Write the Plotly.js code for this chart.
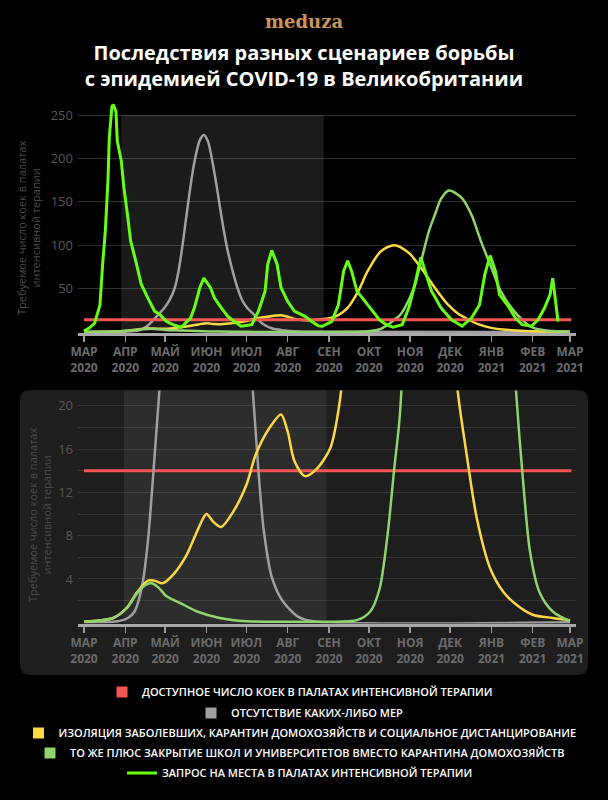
<!DOCTYPE html>
<html>
<head>
<meta charset="utf-8">
<script src="https://cdn.plot.ly/plotly-3.0.1.min.js"></script>
<style>
  html, body { margin: 0; padding: 0; background: #000; }
  #chart { width: 608px; height: 800px; }
</style>
</head>
<body>
<div id="chart"></div>
<script>
// ---------- DATA ----------
const monthTicks = ['2020-03-01','2020-04-01','2020-05-01','2020-06-01','2020-07-01','2020-08-01',
                    '2020-09-01','2020-10-01','2020-11-01','2020-12-01','2021-01-01','2021-02-01','2021-03-01'];
const monthNames = ['МАР','АПР','МАЙ','ИЮН','ИЮЛ','АВГ','СЕН','ОКТ','НОЯ','ДЕК','ЯНВ','ФЕВ','МАР'];
const monthYears = ['2020','2020','2020','2020','2020','2020','2020','2020','2020','2020','2021','2021','2021'];

const topYTicks = [50, 100, 150, 200, 250];
const bottomYTicks = [2, 4, 6, 8, 10, 12, 14, 16, 18, 20];
const bottomYLabels = ['', '4', '', '8', '', '12', '', '16', '', '20'];

// period of restrictions (shaded)
const shadeTop = ['2020-03-29', '2020-08-28'];
const shadeBottom = ['2020-03-31', '2020-08-30'];

// available ICU beds
const capacityDates = ['2020-03-01', '2021-03-02'];
const capacityValues = [14, 14];

// no measures
const greyDates = ['2020-03-01','2020-03-26','2020-04-03','2020-04-08','2020-04-11','2020-04-14',
  '2020-04-18','2020-04-21','2020-04-24','2020-04-27','2020-04-30','2020-05-04',
  '2020-05-08','2020-05-11','2020-05-14','2020-05-16','2020-05-18','2020-05-20',
  '2020-05-22','2020-05-24','2020-05-27','2020-05-30','2020-06-02','2020-06-05',
  '2020-06-08','2020-06-11','2020-06-14','2020-06-17','2020-06-20','2020-06-24',
  '2020-06-28','2020-07-02','2020-07-06','2020-07-10','2020-07-14','2020-07-20',
  '2020-07-28','2020-08-09','2020-08-20','2021-03-01'];
const greyValues = [0,0.1,0.4,1,2,3.6,
  7.5,12,17,22,27,36,
  50,70,100,123,146,168,
  188,204,221,227,220,200,
  174,145,117,93,74,52,
  36,27,21,14,8.5,4.2,
  2,0.5,0.1,0];

// isolation + household quarantine + social distancing
const yellowDates = ['2020-03-01','2020-03-23','2020-04-02','2020-04-10','2020-04-18','2020-04-23',
  '2020-04-29','2020-05-07','2020-05-17','2020-05-26','2020-06-01','2020-06-06',
  '2020-06-12','2020-06-21','2020-07-01','2020-07-08','2020-07-18','2020-07-27',
  '2020-08-01','2020-08-06','2020-08-14','2020-08-23','2020-09-02','2020-09-08',
  '2020-09-15','2020-09-23','2020-09-30','2020-10-10','2020-10-20','2020-10-31',
  '2020-11-09','2020-11-19','2020-11-29','2020-12-07','2020-12-13','2020-12-21',
  '2020-12-31','2021-01-10','2021-01-20','2021-02-01','2021-02-16','2021-03-01'];
const yellowValues = [0.05,0.4,1.3,2.8,3.85,3.85,
  3.6,4.4,6.2,8.7,10,9.3,
  8.8,10.2,12.7,15.5,17.9,19.2,
  17.6,14.9,13.5,14.2,16.1,19.5,
  27.7,47,70,93,100,91,
  74,52,32,21,15.8,9.6,
  5,2.8,1.6,0.7,0.4,0.2];

// same plus school closure
const schoolDates = ['2020-03-01','2020-03-23','2020-04-02','2020-04-10','2020-04-17','2020-04-21',
  '2020-04-26','2020-05-02','2020-05-12','2020-05-25','2020-06-11','2020-07-01',
  '2020-08-01','2020-09-01','2020-09-22','2020-10-02','2020-10-09','2020-10-15',
  '2020-10-20','2020-10-24','2020-10-28','2020-11-04','2020-11-15','2020-11-20',
  '2020-11-24','2020-11-30','2020-12-10','2020-12-17','2020-12-24','2021-01-01',
  '2021-01-08','2021-01-18','2021-01-25','2021-01-30','2021-02-06','2021-02-16','2021-03-01'];
const schoolValues = [0.05,0.4,1.3,2.7,3.5,3.6,
  3.2,2.4,1.8,1.0,0.4,0.1,
  0.05,0.05,0.2,1.0,3.1,8.1,
  14.2,18.8,28,52,116,137,
  153,163,154,135,105,74,
  47,24,12.7,6.5,2.8,1.0,0.1];

// ICU bed demand (intermittent measures)
const icuDates = ['2020-03-01','2020-03-05','2020-03-09','2020-03-13','2020-03-15','2020-03-17',
  '2020-03-19','2020-03-20','2020-03-22','2020-03-23','2020-03-25','2020-03-26',
  '2020-03-29','2020-03-31','2020-04-03','2020-04-05','2020-04-09','2020-04-13',
  '2020-04-18','2020-04-23','2020-04-27','2020-05-02','2020-05-08','2020-05-13',
  '2020-05-20','2020-05-23','2020-05-27','2020-05-30','2020-06-04','2020-06-07',
  '2020-06-12','2020-06-17','2020-06-22','2020-06-27','2020-07-05','2020-07-10',
  '2020-07-15','2020-07-17','2020-07-20','2020-07-24','2020-07-27','2020-08-01',
  '2020-08-06','2020-08-14','2020-08-19','2020-08-24','2020-08-27','2020-09-03',
  '2020-09-08','2020-09-12','2020-09-15','2020-09-18','2020-09-22','2020-09-27',
  '2020-10-03','2020-10-09','2020-10-14','2020-10-19','2020-10-26','2020-10-31',
  '2020-11-05','2020-11-09','2020-11-13','2020-11-17','2020-11-20','2020-11-24',
  '2020-12-02','2020-12-10','2020-12-17','2020-12-23','2020-12-27','2020-12-31',
  '2021-01-04','2021-01-07','2021-01-13','2021-01-19','2021-01-24','2021-01-31',
  '2021-02-05','2021-02-10','2021-02-14','2021-02-16','2021-02-20'];
const icuValues = [1,4.6,10,31,78,116,
  174,224,260,262,254,220,
  197,166,131,105,81,55,
  39,24,20,12,7.7,5.4,
  16,28,51,62,51,39,
  28,18,12,6.6,8.4,24,
  47,78,94,78,51,35,
  24,18,12,7,6.6,12,
  31,70,82,70,47,37,
  26,14,8.4,5.4,8.4,28,
  58,86,66,47,39,28,
  14,6.6,16,31,66,88,
  70,43,31,16,8.4,6.6,
  14,28,43,62,12];

const legendLabels = [
  'ДОСТУПНОЕ ЧИСЛО КОЕК В ПАЛАТАХ ИНТЕНСИВНОЙ ТЕРАПИИ',
  'ОТСУТСТВИЕ КАКИХ-ЛИБО МЕР',
  'ИЗОЛЯЦИЯ ЗАБОЛЕВШИХ, КАРАНТИН ДОМОХОЗЯЙСТВ И СОЦИАЛЬНОЕ ДИСТАНЦИРОВАНИЕ',
  'ТО ЖЕ ПЛЮС ЗАКРЫТИЕ ШКОЛ И УНИВЕРСИТЕТОВ ВМЕСТО КАРАНТИНА ДОМОХОЗЯЙСТВ',
  'ЗАПРОС НА МЕСТА В ПАЛАТАХ ИНТЕНСИВНОЙ ТЕРАПИИ'
];

// ---------- STYLE ----------
const W = 608, H = 800;
const px = v => v / W;
const py = v => 1 - v / H;
const C = {
  red: '#f45656', grey: '#a0a0a0', yellow: '#fcd943', school: '#8fd46c', icu: '#66ff14'
};
const FONT = 'Open Sans, Noto Sans, sans-serif';
const monthLabels = monthNames.map((m, i) => m + '<br>' + monthYears[i]);

function line(x, y, color, w, xa, ya, shape, extra) {
  return Object.assign({
    type: 'scatter', mode: 'lines', x: x, y: y, xaxis: xa, yaxis: ya,
    line: { color: color, width: w, shape: shape || 'spline', smoothing: 0.8 },
    showlegend: false, hoverinfo: 'skip'
  }, extra || {});
}
function swatch(name, color, group, legendId) {
  return {
    type: 'scatter', mode: 'markers', x: [null], y: [null], xaxis: 'x', yaxis: 'y',
    name: name, legendgroup: group, legend: legendId, showlegend: true,
    marker: { symbol: 'square', size: 11, color: color, line: { width: 0 } },
    hoverinfo: 'skip'
  };
}

const traces = [
  // top chart
  line(greyDates, greyValues, C.grey, 2.5, 'x', 'y', 'spline', { legendgroup: 'grey' }),
  line(yellowDates, yellowValues, C.yellow, 2.5, 'x', 'y', 'spline', { legendgroup: 'yellow' }),
  line(schoolDates, schoolValues, C.school, 2.5, 'x', 'y', 'spline', { legendgroup: 'school' }),
  line(capacityDates, capacityValues, C.red, 3, 'x', 'y', 'linear', { legendgroup: 'red' }),
  line(icuDates, icuValues, C.icu, 3, 'x', 'y', 'linear',
       { name: legendLabels[4], showlegend: true, legend: 'legend5' }),
  // bottom chart
  line(capacityDates, capacityValues, C.red, 3, 'x2', 'y2', 'linear', { legendgroup: 'red' }),
  line(greyDates, greyValues, C.grey, 2.5, 'x2', 'y2', 'spline', { legendgroup: 'grey' }),
  line(yellowDates, yellowValues, C.yellow, 2.5, 'x2', 'y2', 'spline', { legendgroup: 'yellow' }),
  line(schoolDates, schoolValues, C.school, 2.5, 'x2', 'y2', 'spline', { legendgroup: 'school' }),
  // legend swatches
  swatch(legendLabels[0], C.red, 'red', 'legend'),
  swatch(legendLabels[1], C.grey, 'grey', 'legend2'),
  swatch(legendLabels[2], C.yellow, 'yellow', 'legend3'),
  swatch(legendLabels[3], C.school, 'school', 'legend4')
];

const xCommon = {
  type: 'date', range: ['2020-02-25 12:00', '2021-03-05 12:00'],
  domain: [px(78), px(576)],
  tickmode: 'array', tickvals: monthTicks, ticktext: monthLabels,
  ticks: 'outside', ticklen: 6, tickwidth: 1.5, tickcolor: '#9a9a9a',
  showline: true, linecolor: '#a9a9a9', linewidth: 3,
  showgrid: false, zeroline: false, fixedrange: true,
  tickfont: { family: FONT, size: 12, color: '#6b6b6b', weight: 700 }
};
const yCommon = {
  showline: false, zeroline: false, ticks: '', fixedrange: true,
  tickmode: 'array', ticklabelstandoff: 4,
  tickfont: { family: FONT, size: 13, color: '#585858' }
};

const legendBase = {
  x: 0.5 - 4 / 608, xanchor: 'center', yanchor: 'middle', orientation: 'h',
  bgcolor: 'rgba(0,0,0,0)', borderwidth: 0,
  font: { family: FONT, size: 11, color: '#ffffff', weight: 600 },
  itemclick: false, itemdoubleclick: false
};

// rounded panel behind bottom chart
const pl = px(20), pr = px(588), pt = py(390), pb = py(675);
const rx = 10 / W, ry = 10 / H;
const panelPath = `M ${pl + rx},${pt} L ${pr - rx},${pt} Q ${pr},${pt} ${pr},${pt - ry} ` +
  `L ${pr},${pb + ry} Q ${pr},${pb} ${pr - rx},${pb} L ${pl + rx},${pb} Q ${pl},${pb} ${pl},${pb + ry} ` +
  `L ${pl},${pt - ry} Q ${pl},${pt} ${pl + rx},${pt} Z`;

const axisTitle = 'Требуемое число коек в палатах<br>интенсивной терапии';

const layout = {
  width: W, height: H,
  margin: { l: 0, r: 0, t: 0, b: 0, pad: 0 },
  paper_bgcolor: '#000000', plot_bgcolor: 'rgba(0,0,0,0)',
  hovermode: false, dragmode: false,
  title: {
    text: 'Последствия разных сценариев борьбы<br>с эпидемией COVID-19 в Великобритании',
    x: 0.5, xanchor: 'center', y: py(60), yanchor: 'middle',
    font: { family: FONT, size: 20, color: '#ffffff', weight: 700 }
  },
  xaxis: Object.assign({}, xCommon, { anchor: 'y' }),
  xaxis2: Object.assign({}, xCommon, { anchor: 'y2' }),
  yaxis: Object.assign({}, yCommon, {
    anchor: 'x', domain: [py(333), py(93.3)], range: [-1.2, 275],
    tickvals: topYTicks, showgrid: true, gridcolor: 'rgba(255,255,255,0.18)', gridwidth: 1
  }),
  yaxis2: Object.assign({}, yCommon, {
    anchor: 'x2', domain: [py(623.6), py(390.6)], range: [-0.12, 21.4],
    tickvals: bottomYTicks, ticktext: bottomYLabels,
    showgrid: true, gridcolor: 'rgba(255,255,255,0.1)', gridwidth: 1
  }),
  shapes: [
    { type: 'path', xref: 'paper', yref: 'paper', path: panelPath,
      fillcolor: '#1e1e1e', line: { width: 0 }, layer: 'below' },
    { type: 'rect', xref: 'x', yref: 'y', x0: shadeTop[0], x1: shadeTop[1], y0: 0, y1: 250,
      fillcolor: '#1b1b1b', line: { width: 0 }, layer: 'below' },
    { type: 'rect', xref: 'x2', yref: 'y2 domain', x0: shadeBottom[0], x1: shadeBottom[1], y0: 0, y1: 1,
      fillcolor: '#2d2d2d', line: { width: 0 }, layer: 'below' }
  ],
  annotations: [
    { text: 'meduza', xref: 'paper', yref: 'paper', x: 0.5, y: py(22), xanchor: 'center', yanchor: 'middle',
      showarrow: false, font: { family: 'DejaVu Serif, serif', size: 18, color: '#c8955c', weight: 700 } },
    { text: axisTitle, xref: 'paper', yref: 'paper', x: px(29), y: py(228), textangle: -90,
      xanchor: 'center', yanchor: 'middle', showarrow: false,
      font: { family: FONT, size: 11, color: '#4c4c4c' } },
    { text: axisTitle, xref: 'paper', yref: 'paper', x: px(39), y: py(515), textangle: -90,
      xanchor: 'center', yanchor: 'middle', showarrow: false,
      font: { family: FONT, size: 11, color: '#4c4c4c' } }
  ],
  legend: Object.assign({}, legendBase, { y: py(692) }),
  legend2: Object.assign({}, legendBase, { y: py(713) }),
  legend3: Object.assign({}, legendBase, { y: py(733) }),
  legend4: Object.assign({}, legendBase, { y: py(753) }),
  legend5: Object.assign({}, legendBase, { y: py(773) })
};

Plotly.newPlot('chart', traces, layout, { displayModeBar: false, staticPlot: true });
</script>
</body>
</html>
